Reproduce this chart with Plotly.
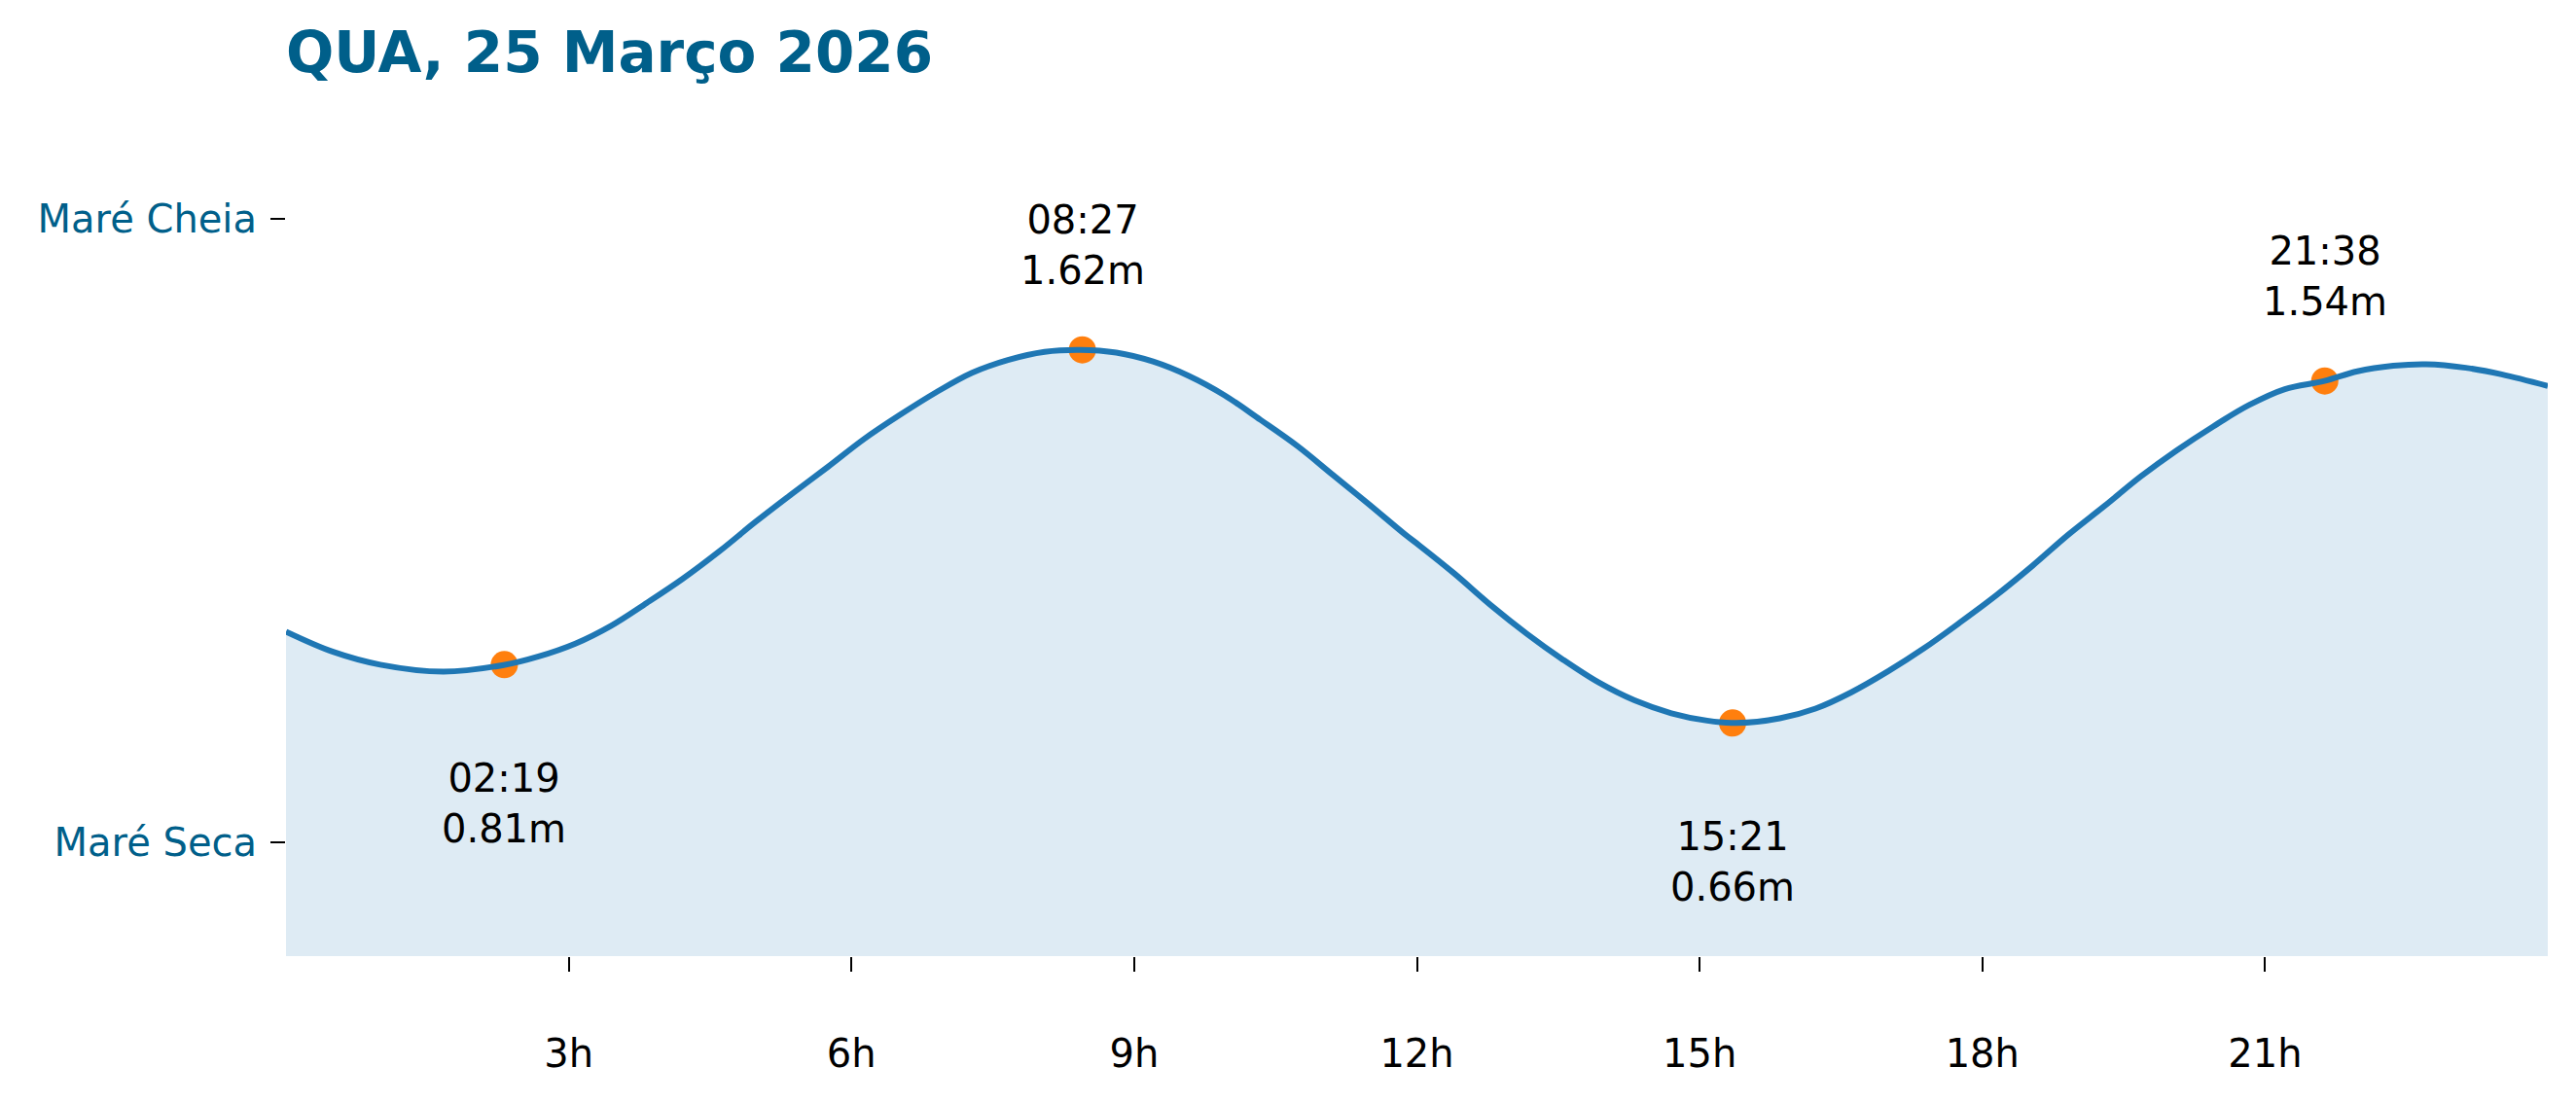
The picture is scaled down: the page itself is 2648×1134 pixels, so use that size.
import plotly.graph_objects as go

# Tide curve (hours since midnight, metres)
curve_hours = [0.00, 0.50, 1.00, 1.67, 2.31, 2.68, 3.07, 3.45, 3.83, 4.21, 4.60, 4.98,
               5.36, 5.75, 6.13, 6.51, 6.90, 7.28, 7.66, 8.05, 8.43, 8.81, 9.20, 9.58,
               9.96, 10.34, 10.73, 11.11, 11.49, 11.88, 12.02, 12.40, 12.78, 13.17,
               13.55, 13.93, 14.31, 14.70, 15.08, 15.39, 15.85, 16.23, 16.61, 17.00,
               17.38, 17.76, 18.15, 18.53, 18.91, 19.30, 19.68, 20.06, 20.45, 20.83,
               21.21, 21.63, 21.98, 22.36, 22.71, 23.13, 23.51, 24.00]
curve_height = [0.895, 0.843, 0.810, 0.792, 0.809, 0.831, 0.864, 0.910, 0.969, 1.031,
                1.102, 1.177, 1.248, 1.319, 1.390, 1.452, 1.511, 1.561, 1.594, 1.615,
                1.620, 1.613, 1.590, 1.553, 1.503, 1.440, 1.373, 1.298, 1.223, 1.144,
                1.118, 1.044, 0.964, 0.889, 0.823, 0.764, 0.718, 0.685, 0.666, 0.660,
                0.672, 0.697, 0.739, 0.793, 0.852, 0.918, 0.989, 1.064, 1.144, 1.219,
                1.294, 1.361, 1.423, 1.478, 1.519, 1.540, 1.565, 1.579, 1.583, 1.574,
                1.557, 1.527]

# Extremes
extreme_labels = ["02:19", "08:27", "15:21", "21:38"]
extreme_hours = [2 + 19 / 60, 8 + 27 / 60, 15 + 21 / 60, 21 + 38 / 60]
extreme_height = [0.81, 1.62, 0.66, 1.54]
extreme_kind = ["low", "high", "low", "high"]

x_tick_vals = [3, 6, 9, 12, 15, 18, 21]
x_tick_text = ["3h", "6h", "9h", "12h", "15h", "18h", "21h"]
y_tick_vals = [0.353, 1.958]
y_tick_text = ["Maré Seca", "Maré Cheia"]

title_text = "QUA, 25 Março 2026"

FONT = "DejaVu Sans"
BLUE = "#1f77b4"
ORANGE = "#ff7f0e"
LABEL_BLUE = "#005f8a"

fig = go.Figure()

fig.add_trace(go.Scatter(
    x=curve_hours, y=curve_height, mode="lines",
    line=dict(width=0, shape="spline", smoothing=1.0, color=BLUE),
    fill="tozeroy", fillcolor="rgba(31,119,180,0.15)",
    hoverinfo="skip", showlegend=False))

fig.add_trace(go.Scatter(
    x=extreme_hours, y=extreme_height, mode="markers",
    marker=dict(size=28, color=ORANGE, line=dict(width=0)),
    showlegend=False))

fig.add_trace(go.Scatter(
    x=curve_hours, y=curve_height, mode="lines",
    line=dict(width=6, shape="spline", smoothing=1.0, color=BLUE),
    showlegend=False))

for lab, h, v, k in zip(extreme_labels, extreme_hours, extreme_height, extreme_kind):
    fig.add_annotation(
        x=h, y=v, xref="x", yref="y",
        text=f"{lab}<br>{v:.2f}m", showarrow=False,
        xanchor="center", yanchor="middle",
        yshift=108 if k == "high" else -143,
        font=dict(family=FONT, size=40, color="black"),
        align="center")

fig.update_layout(
    width=2648, height=1134,
    margin=dict(l=294, r=29, t=120, b=151, autoexpand=False),
    paper_bgcolor="white", plot_bgcolor="white",
    title=dict(text=f"<b>{title_text}</b>", x=0, xref="paper", xanchor="left",
               y=1 - 54 / 1134, yref="container", yanchor="middle",
               font=dict(family=FONT, size=58, color=LABEL_BLUE)),
    font=dict(family=FONT, size=40, color="black"),
)

fig.update_xaxes(
    range=[0, 24], tickvals=x_tick_vals, ticktext=x_tick_text,
    ticks="outside", ticklen=15, tickwidth=2, tickcolor="black",
    showline=False, showgrid=False, zeroline=False,
    tickfont=dict(family=FONT, size=40, color="black"),
    ticklabelstandoff=50)

fig.update_yaxes(
    range=[0.06, 2.22], tickvals=y_tick_vals, ticktext=y_tick_text,
    ticks="outside", ticklen=15, tickwidth=2, tickcolor="black",
    showline=False, showgrid=False, zeroline=False,
    tickfont=dict(family=FONT, size=40, color=LABEL_BLUE),
    ticklabelstandoff=6)

fig.write_html("out.html",
               config={"displayModeBar": False},
               post_script="document.body.style.margin='0';document.body.style.overflow='hidden';")
